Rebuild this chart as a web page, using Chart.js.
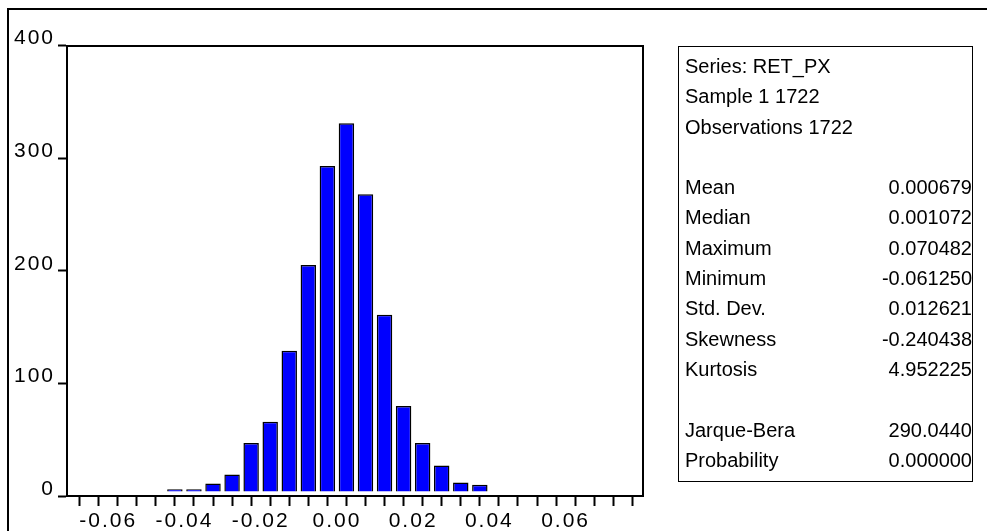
<!DOCTYPE html>
<html>
<head>
<meta charset="utf-8">
<title>RET_PX histogram</title>
<script src="https://cdn.jsdelivr.net/npm/chart.js@4.4.1/dist/chart.umd.min.js"></script>
<style>
  html, body { margin: 0; padding: 0; background: #fff; overflow: hidden; }
  #wrap { position: relative; width: 987px; height: 531px; overflow: hidden; }
  #frame { position: absolute; left: 7px; top: 8px; width: 1100px; height: 700px; border: 2px solid #000; }
  #chart { position: absolute; left: 0; top: 0; }
  #stats {
    position: absolute; left: 678px; top: 46px; width: 293px; height: 430px;
    border: 1.5px solid #000; box-sizing: content-box;
    font-family: "Liberation Sans", Arial, sans-serif; font-size: 20px; color: #000;
    padding-top: 4px;
  }
  .row { display: flex; justify-content: space-between; height: 30.3px; line-height: 30.3px; padding-left: 6px; white-space: nowrap; }
</style>
</head>
<body>
<div id="wrap">
  <div id="frame"></div>
  <canvas id="chart" width="987" height="531"></canvas>
  <div id="stats"></div>
</div>
<script>
// histogram bins (centre of each 0.005 bin) and counts
const binCenters = [-0.0425, -0.0375, -0.0325, -0.0275, -0.0225, -0.0175, -0.0125, -0.0075, -0.0025,
                    0.0025, 0.0075, 0.0125, 0.0175, 0.0225, 0.0275, 0.0325, 0.0375];
const counts = [6, 6, 11, 19, 47, 66, 129, 205, 293, 331, 268, 161, 80, 47, 27, 12, 10];

// axis ticks
const xTicks = [-0.065, -0.06, -0.055, -0.05, -0.045, -0.04, -0.035, -0.03, -0.025, -0.02, -0.015, -0.01, -0.005,
                0, 0.005, 0.01, 0.015, 0.02, 0.025, 0.03, 0.035, 0.04, 0.045, 0.05, 0.055, 0.06, 0.065, 0.07, 0.075];
const xLabelled = [-0.06, -0.04, -0.02, 0, 0.02, 0.04, 0.06];
const yTicks = [0, 100, 200, 300, 400];

// statistics panel
const headerLines = ["Series: RET_PX", "Sample 1 1722", "Observations 1722"];
const statNames = ["Mean", "Median", "Maximum", "Minimum", "Std. Dev.", "Skewness", "Kurtosis"];
const statValues = ["0.000679", "0.001072", "0.070482", "-0.061250", "0.012621", "-0.240438", "4.952225"];
const testNames = ["Jarque-Bera", "Probability"];
const testValues = ["290.0440", "0.000000"];

// build the text box
const stats = document.getElementById("stats");
function addRow(label, value) {
  const row = document.createElement("div");
  row.className = "row";
  row.innerHTML = "<span>" + label + "</span><span>" + value + "</span>";
  stats.appendChild(row);
}
headerLines.forEach(t => addRow(t, ""));
addRow("&nbsp;", "");
statNames.forEach((n, i) => addRow(n, statValues[i]));
addRow("&nbsp;", "");
testNames.forEach((n, i) => addRow(n, testValues[i]));

const tickFont = { family: "'Liberation Sans', Arial, sans-serif", size: 21 };

// wide letter spacing on the axis numbers
const spacing = {
  id: "spacing",
  beforeLayout(chart) { chart.ctx.letterSpacing = "2px"; },
  beforeDraw(chart) { chart.ctx.letterSpacing = "2px"; }
};

const ctx = document.getElementById("chart").getContext("2d");
new Chart(ctx, {
  type: "bar",
  data: {
    datasets: [{
      data: binCenters.map((x, i) => ({ x: x, y: counts[i] })),
      backgroundColor: "#0000ff",
      borderColor: "#000",
      borderWidth: 1.5,
      base: 4,
      barPercentage: 0.81,
      categoryPercentage: 1
    }]
  },
  options: {
    responsive: false,
    animation: false,
    devicePixelRatio: 1,
    layout: { padding: { left: 0, top: 45.5, right: 344, bottom: 0 } },
    plugins: { legend: { display: false }, tooltip: { enabled: false } },
    scales: {
      x: {
        type: "linear",
        position: "bottom",
        min: -0.0682,
        max: 0.0777,
        afterBuildTicks: s => { s.ticks = xTicks.map(v => ({ value: v })); },
        afterFit: s => { s.height = 35; },
        ticks: {
          autoSkip: false, maxRotation: 0, padding: 3, color: "#000", font: tickFont,
          callback: v => xLabelled.some(l => Math.abs(l - v) < 1e-9) ? v.toFixed(2) : ""
        },
        grid: { drawOnChartArea: false, drawTicks: true, tickLength: 10, tickWidth: 2, tickColor: "#000" },
        border: { display: true, color: "#000", width: 2 }
      },
      y: {
        position: "left",
        min: 0,
        max: 400,
        afterBuildTicks: s => { s.ticks = yTicks.map(v => ({ value: v })); },
        afterFit: s => { s.width = 67; },
        ticks: { padding: 3, color: "#000", font: tickFont, labelOffset: -7 },
        grid: { drawOnChartArea: false, drawTicks: true, tickLength: 9, tickWidth: 2, tickColor: "#000" },
        border: { display: true, color: "#000", width: 2 }
      },
      x2: {
        type: "linear",
        position: "top",
        afterFit: s => { s.height = 0; },
        ticks: { display: false },
        grid: { display: false, drawTicks: false },
        border: { display: true, color: "#000", width: 2 }
      },
      y2: {
        type: "linear",
        position: "right",
        afterFit: s => { s.width = 0; },
        ticks: { display: false },
        grid: { display: false, drawTicks: false },
        border: { display: true, color: "#000", width: 2 }
      }
    }
  },
  plugins: [spacing]
});
</script>
</body>
</html>
